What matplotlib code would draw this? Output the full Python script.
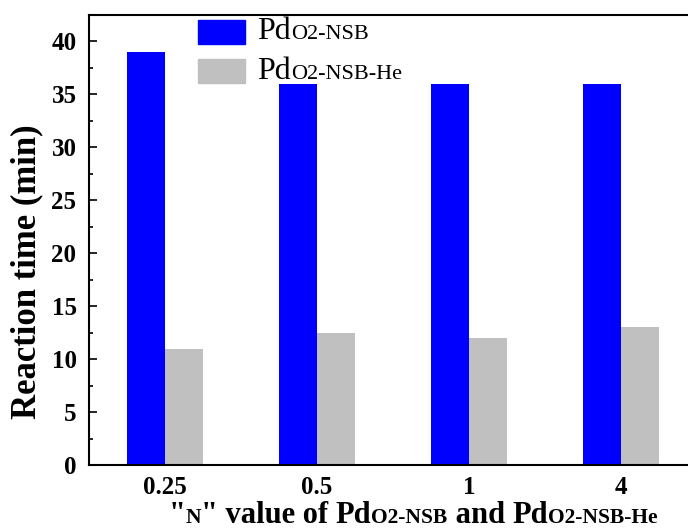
import matplotlib
matplotlib.use('Agg')
import matplotlib.pyplot as plt
from matplotlib.patches import Rectangle
from matplotlib.ticker import MultipleLocator
import numpy as np

n_labels = ['0.25', '0.5', '1', '4']
time_nsb = [39, 36, 36, 36]
time_nsb_he = [11, 12.5, 12, 13]
blue = '#0000FF'
gray = '#C0C0C0'

plt.rcParams['font.family'] = ['Liberation Serif', 'DejaVu Serif']

W, H = 688, 531
fig = plt.figure(figsize=(W / 100, H / 100), dpi=100)
ax = fig.add_axes([89 / W, 1 - 465 / H, 608 / W, 450 / H])

x = np.arange(1, len(n_labels) + 1)
w = 0.25
ax.bar(x - w / 2, time_nsb, w, color=blue)
ax.bar(x + w / 2, time_nsb_he, w, color=gray)

ax.set_xlim(0.5, 4.5)
ax.set_ylim(0, 42.5)
ax.set_xticks(x)
ax.set_xticklabels(n_labels, fontsize=18, fontweight='bold')
ax.tick_params(axis='x', length=0, pad=8)
ax.yaxis.set_major_locator(MultipleLocator(5))
ax.yaxis.set_minor_locator(MultipleLocator(2.5))
ax.tick_params(axis='y', which='major', direction='in', length=6, width=1.2,
               labelsize=18, pad=9)
ax.tick_params(axis='y', which='minor', direction='in', length=3, width=1.2)
for lab in ax.get_yticklabels():
    lab.set_fontweight('bold')
for s in ax.spines.values():
    s.set_linewidth(1.5)

fig.text(27 / W, 1 - 272 / H, 'Reaction time (min)', fontsize=25,
         fontweight='bold', rotation=90, ha='center', va='center')

fig.canvas.draw()
renderer = fig.canvas.get_renderer()


def chain(parts, x0, y0, center=False):
    # pieces of text of mixed size on one baseline (pixel coords)
    texts = []
    xc = x0
    for txt, size, weight in parts:
        t = fig.text(xc / W, 1 - y0 / H, txt, fontsize=size, fontweight=weight,
                     va='baseline', ha='left')
        xc += t.get_window_extent(renderer).width
        texts.append(t)
    if center:
        shift = (xc - x0) / 2
        for t in texts:
            px, py = t.get_position()
            t.set_position((px - shift / W, py))


# legend
fig.add_artist(Rectangle((198 / W, 1 - 44 / H), 47 / W, 24 / H,
                         transform=fig.transFigure, color=blue))
fig.add_artist(Rectangle((198 / W, 1 - 83 / H), 47 / W, 24 / H,
                         transform=fig.transFigure, color=gray))
chain([('Pd', 23, 'normal'), ('O2-NSB', 16, 'normal')], 257, 39)
chain([('Pd', 23, 'normal'), ('O2-NSB-He', 16, 'normal')], 257, 79)

# x label
big, small = 22, 15.5
chain([('"', big, 'bold'), ('N', small, 'bold'), ('" value of ', big, 'bold'),
       ('Pd', big, 'bold'), ('O2-NSB', small, 'bold'),
       (' and ', big, 'bold'), ('Pd', big, 'bold'), ('O2-NSB-He', small, 'bold')],
      413, 523, center=True)

fig.savefig('out.png', dpi=100)
